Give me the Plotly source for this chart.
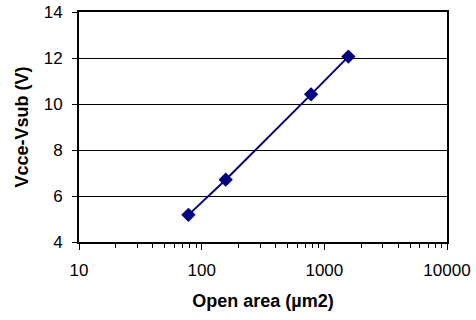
import plotly.graph_objects as go

area = [78, 157, 780, 1570]
vdiff = [5.18, 6.71, 10.42, 12.06]
xticks = [10, 100, 1000, 10000]
xticklabels = ["10", "100", "1000", "10000"]
yticks = [4, 6, 8, 10, 12, 14]

minor_vals = [m * 10**d for d in range(1, 4) for m in range(2, 10)]

fig = go.Figure()
fig.add_trace(go.Scatter(
    x=area, y=vdiff, mode="lines+markers",
    line=dict(color="#000080", width=2),
    marker=dict(symbol="diamond", size=11, color="#000080"),
    showlegend=False,
))

tickfont = dict(family="Liberation Sans, Arial, sans-serif", size=17, color="black")
titlefont = dict(family="Liberation Sans, Arial, sans-serif", size=18, color="black")
fig.update_layout(
    width=476, height=320,
    margin=dict(l=79, r=29, t=12, b=78),
    paper_bgcolor="white", plot_bgcolor="white",
    font=tickfont,
    xaxis=dict(
        type="log", range=[1, 4],
        tickmode="array", tickvals=xticks, ticktext=xticklabels,
        ticks="outside", ticklen=6, tickcolor="black", tickwidth=1,
        tickfont=tickfont, ticklabelstandoff=6,
        minor=dict(tickmode="array", tickvals=minor_vals, ticks="outside",
                   ticklen=4, tickcolor="black", showgrid=False),
        showgrid=False, showline=True, linecolor="black", linewidth=2,
        mirror=True, zeroline=False,
        title=dict(text="<b>Open area (µm2)</b>", standoff=15, font=titlefont),
        automargin=False,
    ),
    yaxis=dict(
        range=[4, 14], tickvals=yticks,
        ticks="outside", ticklen=5, tickcolor="black",
        tickfont=tickfont, ticklabelstandoff=6,
        showgrid=True, gridcolor="black", gridwidth=1,
        showline=True, linecolor="black", linewidth=2, mirror=True,
        zeroline=False,
        title=dict(text="<b>Vcce-Vsub (V)</b>", standoff=10, font=titlefont),
        automargin=False,
    ),
)
fig.write_html("out.html")
